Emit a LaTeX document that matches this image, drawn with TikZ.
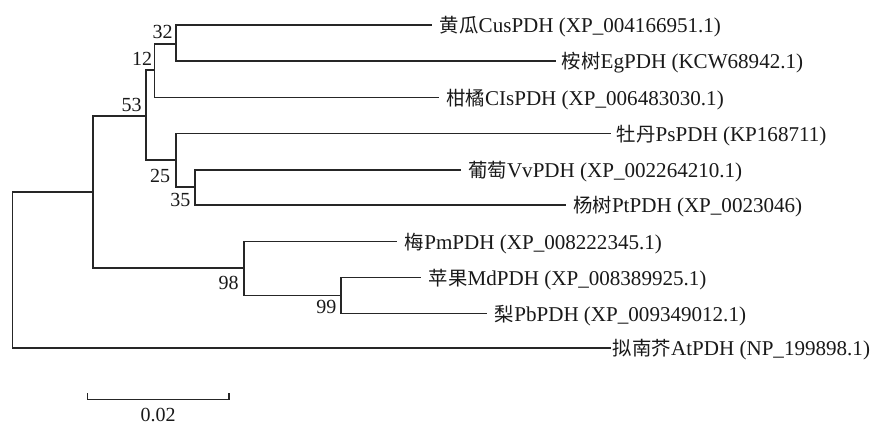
\documentclass[tikz,border=0pt]{standalone}
\usepackage{fontspec}
\setmainfont{Liberation Serif}
\newfontfamily\cjk{Noto Sans CJK SC}[Scale=0.92]
\newcommand\zh[1]{{\cjk #1}}
\begin{document}
\begin{tikzpicture}[x=0.75pt,y=-0.75pt,
  branch/.style={line width=1.1pt,draw=black!85,line cap=rect},
  leaflab/.style={anchor=base west,inner sep=0pt,font=\fontsize{15.8pt}{18pt}\selectfont,text=black!90},
  boot/.style={anchor=center,inner sep=0pt,font=\fontsize{15pt}{18pt}\selectfont,text=black!90}]
\useasboundingbox (0,0) rectangle (876,424);
% internal nodes
\coordinate (R) at (12.5,270);
\coordinate (A) at (93,192);
\coordinate (B) at (146,116);
\coordinate (C) at (154.5,70);
\coordinate (D) at (176,44);
\coordinate (E) at (176,160);
\coordinate (F) at (195,187);
\coordinate (G) at (244,268);
\coordinate (H) at (341,295.3);
% leaf ends
\coordinate (cus) at (431.7,25);
\coordinate (eg) at (555,61);
\coordinate (cl) at (438,97.7);
\coordinate (ps) at (610,133.7);
\coordinate (vv) at (460,170);
\coordinate (pt) at (565,205);
\coordinate (pm) at (396.7,241.7);
\coordinate (md) at (420.7,277.7);
\coordinate (pb) at (486.7,313.3);
\coordinate (at) at (610,348);
% branches
\draw[branch] (R) |- (A);
\draw[branch] (R) |- (at);
\draw[branch] (A) |- (B);
\draw[branch] (A) |- (G);
\draw[branch] (B) |- (C);
\draw[branch] (B) |- (E);
\draw[branch] (C) |- (D);
\draw[branch] (C) |- (cl);
\draw[branch] (D) |- (cus);
\draw[branch] (D) |- (eg);
\draw[branch] (E) |- (ps);
\draw[branch] (E) |- (F);
\draw[branch] (F) |- (vv);
\draw[branch] (F) |- (pt);
\draw[branch] (G) |- (pm);
\draw[branch] (G) |- (H);
\draw[branch] (H) |- (md);
\draw[branch] (H) |- (pb);
% leaf labels
\node[leaflab] (Lcus) at ([xshift=6pt,yshift=-6pt]cus) {\zh{黄瓜}CusPDH (XP\_004166951.1)};
\node[leaflab] (Leg) at ([xshift=5pt,yshift=-6pt]eg) {\zh{桉树}EgPDH (KCW68942.1)};
\node[leaflab] (Lcl) at ([xshift=6pt,yshift=-6pt]cl) {\zh{柑橘}CIsPDH (XP\_006483030.1)};
\node[leaflab] (Lps) at ([xshift=5pt,yshift=-6pt]ps) {\zh{牡丹}PsPDH (KP168711)};
\node[leaflab] (Lvv) at ([xshift=6pt,yshift=-6pt]vv) {\zh{葡萄}VvPDH (XP\_002264210.1)};
\node[leaflab] (Lpt) at ([xshift=6pt,yshift=-6pt]pt) {\zh{杨树}PtPDH (XP\_0023046)};
\node[leaflab] (Lpm) at ([xshift=6pt,yshift=-6pt]pm) {\zh{梅}PmPDH (XP\_008222345.1)};
\node[leaflab] (Lmd) at ([xshift=6pt,yshift=-6pt]md) {\zh{苹果}MdPDH (XP\_008389925.1)};
\node[leaflab] (Lpb) at ([xshift=6pt,yshift=-6pt]pb) {\zh{梨}PbPDH (XP\_009349012.1)};
\node[leaflab] (Lat) at ([xshift=2pt,yshift=-6pt]at) {\zh{拟南芥}AtPDH (NP\_199898.1)};
% bootstrap values
\node[boot] (b32) at (162.5,31.7) {32};
\node[boot] (b12) at (142,58.8) {12};
\node[boot] (b53) at (131.7,105) {53};
\node[boot] (b25) at (160,175.5) {25};
\node[boot] (b35) at (180.3,200) {35};
\node[boot] (b98) at (228.5,283) {98};
\node[boot] (b99) at (326.3,306.7) {99};
% scale bar
\coordinate (sbL) at (87.3,399.3);
\coordinate (sbR) at (229,399.3);
\draw[branch,line cap=butt] ([yshift=4.5pt]sbL) -- (sbL) -- (sbR) -- ([yshift=4.5pt]sbR);
\node[boot] (sblab) at (158,414.5) {0.02};
\end{tikzpicture}
\end{document}
